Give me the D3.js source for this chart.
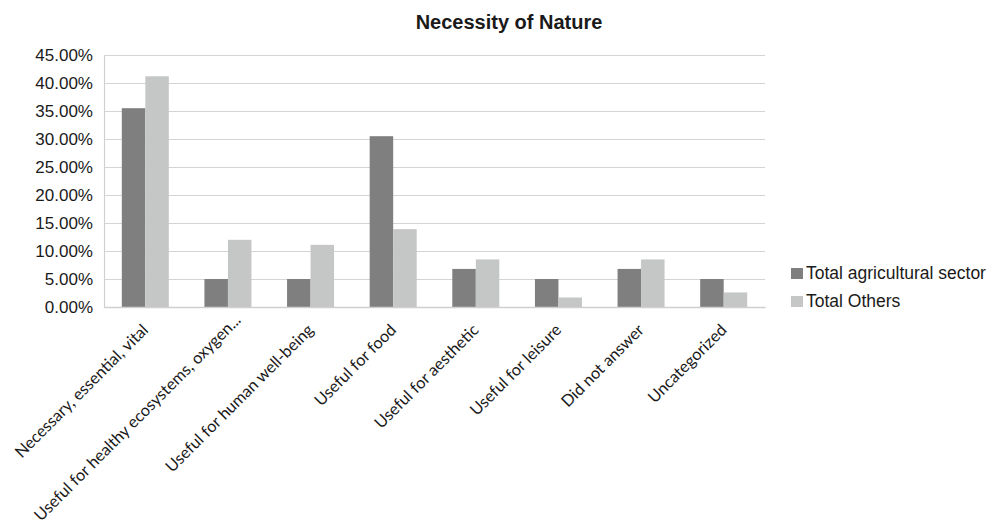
<!DOCTYPE html>
<html>
<head>
<meta charset="utf-8">
<script src="https://cdn.jsdelivr.net/npm/d3@7"></script>
<style>
  html, body { margin: 0; padding: 0; background: #fff; }
  svg { display: block; }
</style>
</head>
<body>
<svg id="chart" width="1003" height="527"></svg>
<script>
// Categories and series values (share of respondents, %)
const categories = [
  "Necessary, essential, vital",
  "Useful for healthy ecosystems, oxygen...",
  "Useful for human well-being",
  "Useful for food",
  "Useful for aesthetic",
  "Useful for leisure",
  "Did not answer",
  "Uncategorized"
];
const seriesNames = ["Total agricultural sector", "Total Others"];
const agricultural = [35.5, 5.0, 5.0, 30.5, 6.8, 5.0, 6.8, 5.0];
const others = [41.2, 12.0, 11.1, 13.9, 8.5, 1.7, 8.5, 2.6];
const yTicks = [0, 5, 10, 15, 20, 25, 30, 35, 40, 45];
const colors = ["#7f7f7f", "#c5c7c6"];

const svg = d3.select("#chart");
const plotLeft = 104, plotRight = 765, plotTop = 55, plotBottom = 307;

const x0 = d3.scaleBand().domain(categories).range([plotLeft, plotRight]).padding(0);
const bw = x0.bandwidth();
const x1 = d3.scaleBand().domain(seriesNames)
  .range([bw * 0.2155, bw * 0.7845]).padding(0);
const y = d3.scaleLinear().domain([0, 45]).range([plotBottom, plotTop]);

// Horizontal gridlines
const grid = d3.axisLeft(y).tickValues(yTicks).tickSize(-(plotRight - plotLeft)).tickFormat("");
svg.append("g").attr("transform", `translate(${plotLeft},0)`).call(grid)
  .call(g => g.select(".domain").remove())
  .call(g => g.selectAll("line").attr("stroke", "#d4d4d4").attr("stroke-width", 1.2));

// Y axis labels
const yAxis = d3.axisLeft(y).tickValues(yTicks).tickSize(0).tickPadding(11)
  .tickFormat(d => d.toFixed(2) + "%");
svg.append("g").attr("transform", `translate(${plotLeft},0)`).call(yAxis)
  .call(g => g.select(".domain").attr("stroke", "#d0d0d0").attr("stroke-width", 1.2))
  .call(g => g.selectAll("text")
    .attr("font-family", "'Liberation Sans', Arial, sans-serif")
    .attr("font-size", 17).attr("fill", "#1a1a1a"));

// Bars
const rows = categories.map((c, i) => ({ cat: c, vals: [agricultural[i], others[i]] }));
const groups = svg.append("g").selectAll("g").data(rows).join("g")
  .attr("transform", d => `translate(${x0(d.cat)},0)`);
groups.selectAll("rect")
  .data(d => d.vals.map((v, k) => ({ key: seriesNames[k], v, k })))
  .join("rect")
  .attr("x", d => x1(d.key))
  .attr("width", x1.bandwidth())
  .attr("y", d => y(d.v))
  .attr("height", d => y(0) - y(d.v))
  .attr("fill", d => colors[d.k]);

// X axis line
const xAxis = d3.axisBottom(x0).tickSize(0).tickFormat("");
svg.append("g").attr("transform", `translate(0,${plotBottom})`).call(xAxis)
  .call(g => g.select(".domain").attr("stroke", "#cfcfcf").attr("stroke-width", 1.5));

// Rotated category labels
const labelDx = 4, labelDy = 24;
const labels = svg.append("g").selectAll("text").data(categories).join("text")
  .attr("font-family", "Lato, 'Open Sans', sans-serif")
  .attr("font-size", 16.3)
  .attr("fill", "#1a1a1a")
  .attr("text-anchor", "end")
  .attr("transform", d => `translate(${x0(d) + bw / 2 + labelDx},${plotBottom + labelDy}) rotate(-45)`)
  .text(d => d);

// Keep long labels inside the canvas by sliding them up along their direction
labels.each(function (d) {
  const b = this.getBoundingClientRect();
  const limit = 524;
  if (b.bottom > limit) {
    const s = b.bottom - limit;
    d3.select(this).attr("transform",
      `translate(${x0(d) + bw / 2 + labelDx + s},${plotBottom + labelDy - s}) rotate(-45)`);
  }
});

// Title
svg.append("text")
  .attr("x", 509).attr("y", 29)
  .attr("text-anchor", "middle")
  .attr("font-family", "'Liberation Sans', Arial, sans-serif")
  .attr("font-weight", "bold").attr("font-size", 20)
  .attr("fill", "#1a1a1a")
  .text("Necessity of Nature");

// Legend
const legend = svg.append("g").attr("transform", "translate(791,268)");
const items = legend.selectAll("g").data(seriesNames).join("g")
  .attr("transform", (d, i) => `translate(0,${i * 28})`);
items.append("rect").attr("width", 12).attr("height", 11)
  .attr("fill", (d, i) => colors[i]);
items.append("text").attr("x", 15).attr("y", 11)
  .attr("font-family", "'Liberation Sans', Arial, sans-serif")
  .attr("font-size", 17.5).attr("fill", "#1a1a1a")
  .text(d => d);
</script>
</body>
</html>
